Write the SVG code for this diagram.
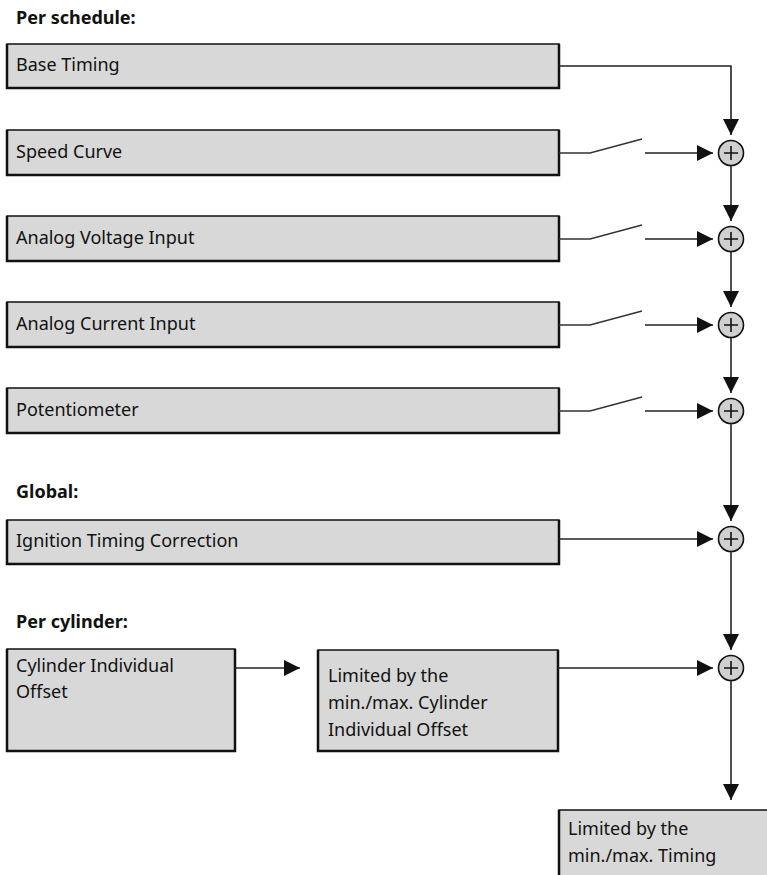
<svg xmlns="http://www.w3.org/2000/svg" width="767" height="875" viewBox="0 0 767 875">
<style>
.bx{fill:#d8d8d8;stroke:#111;stroke-width:1.5}
.edge{stroke:#111;stroke-width:2.5;fill:none}
.t{font-family:"Noto Sans","Open Sans",sans-serif;font-size:18px;fill:#111}
.h{font-family:"Noto Sans","Open Sans",sans-serif;font-size:18px;font-weight:bold;fill:#111}
.ln{stroke:#222;stroke-width:1.6;fill:none}
.sw{stroke:#333;stroke-width:1.5;fill:none}
.sum{fill:#d0d0d0;stroke:#111;stroke-width:1.6}
.plus{stroke:#111;stroke-width:1.6}
</style>
<defs>
<marker id="ah" viewBox="0 0 16 16" refX="16" refY="8" markerWidth="16" markerHeight="16" markerUnits="userSpaceOnUse" orient="auto">
<path d="M0,0 L16,8 L0,16 Z" fill="#111"/>
</marker>
<g id="sumsym">
<circle class="sum" cx="0" cy="0" r="12.5"/>
<path class="plus" d="M-7,0 H7 M0,-7 V7"/>
</g>
</defs>

<text class="h" x="16" y="24">Per schedule:</text>
<text class="h" x="16" y="498">Global:</text>
<text class="h" x="16" y="628">Per cylinder:</text>

<g id="base-timing">
<rect class="bx" x="7" y="44" width="552" height="44"/>
<path class="edge" d="M7,44 V88 H559 V44"/>
<text class="t" x="16" y="71">Base Timing</text>
</g>
<g id="speed-curve">
<rect class="bx" x="7" y="130" width="552" height="45"/>
<path class="edge" d="M7,130 V175 H559 V130"/>
<text class="t" x="16" y="158">Speed Curve</text>
</g>
<g id="analog-voltage">
<rect class="bx" x="7" y="216" width="552" height="45"/>
<path class="edge" d="M7,216 V261 H559 V216"/>
<text class="t" x="16" y="244">Analog Voltage Input</text>
</g>
<g id="analog-current">
<rect class="bx" x="7" y="302" width="552" height="45"/>
<path class="edge" d="M7,302 V347 H559 V302"/>
<text class="t" x="16" y="330">Analog Current Input</text>
</g>
<g id="potentiometer">
<rect class="bx" x="7" y="388" width="552" height="45"/>
<path class="edge" d="M7,388 V433 H559 V388"/>
<text class="t" x="16" y="416">Potentiometer</text>
</g>
<g id="ignition">
<rect class="bx" x="7" y="520" width="552" height="44"/>
<path class="edge" d="M7,520 V564 H559 V520"/>
<text class="t" x="16" y="547">Ignition Timing Correction</text>
</g>
<g id="cyl-offset">
<rect class="bx" x="7" y="649" width="228" height="102"/>
<path class="edge" d="M7,649 V751 H235 V649"/>
<text class="t" x="16" y="672">Cylinder Individual</text>
<text class="t" x="16" y="698">Offset</text>
</g>
<g id="cyl-limit">
<rect class="bx" x="318" y="650" width="240" height="101"/>
<path class="edge" d="M318,650 V751 H558 V650"/>
<text class="t" x="328" y="682">Limited by the</text>
<text class="t" x="328" y="709">min./max. Cylinder</text>
<text class="t" x="328" y="736">Individual Offset</text>
</g>
<g id="timing-limit">
<rect class="bx" x="559" y="810" width="220" height="80"/>
<path class="edge" d="M559,810 V890"/>
<text class="t" x="568" y="835">Limited by the</text>
<text class="t" x="568" y="862">min./max. Timing</text>
</g>

<g id="sum1"><use href="#sumsym" x="731" y="153"/></g>
<g id="sum2"><use href="#sumsym" x="731" y="239"/></g>
<g id="sum3"><use href="#sumsym" x="731" y="325"/></g>
<g id="sum4"><use href="#sumsym" x="731" y="411"/></g>
<g id="sum5"><use href="#sumsym" x="731" y="539"/></g>
<g id="sum6"><use href="#sumsym" x="731" y="668"/></g>

<g id="connectors">
<path class="ln" d="M559,66 H731 V135" marker-end="url(#ah)"/>
<path class="sw" d="M559,153 H590 L642,139"/>
<path class="ln" d="M645,153 H713" marker-end="url(#ah)"/>
<path class="sw" d="M559,239 H590 L642,225"/>
<path class="ln" d="M645,239 H713" marker-end="url(#ah)"/>
<path class="sw" d="M559,325 H590 L642,311"/>
<path class="ln" d="M645,325 H713" marker-end="url(#ah)"/>
<path class="sw" d="M559,411 H590 L642,397"/>
<path class="ln" d="M645,411 H713" marker-end="url(#ah)"/>
<path class="ln" d="M559,539 H713" marker-end="url(#ah)"/>
<path class="ln" d="M235,668 H300" marker-end="url(#ah)"/>
<path class="ln" d="M558,668 H713" marker-end="url(#ah)"/>
<path class="ln" d="M731,166 V221" marker-end="url(#ah)"/>
<path class="ln" d="M731,252 V307" marker-end="url(#ah)"/>
<path class="ln" d="M731,338 V393" marker-end="url(#ah)"/>
<path class="ln" d="M731,424 V521" marker-end="url(#ah)"/>
<path class="ln" d="M731,552 V650" marker-end="url(#ah)"/>
<path class="ln" d="M731,681 V800" marker-end="url(#ah)"/>
</g>
</svg>
